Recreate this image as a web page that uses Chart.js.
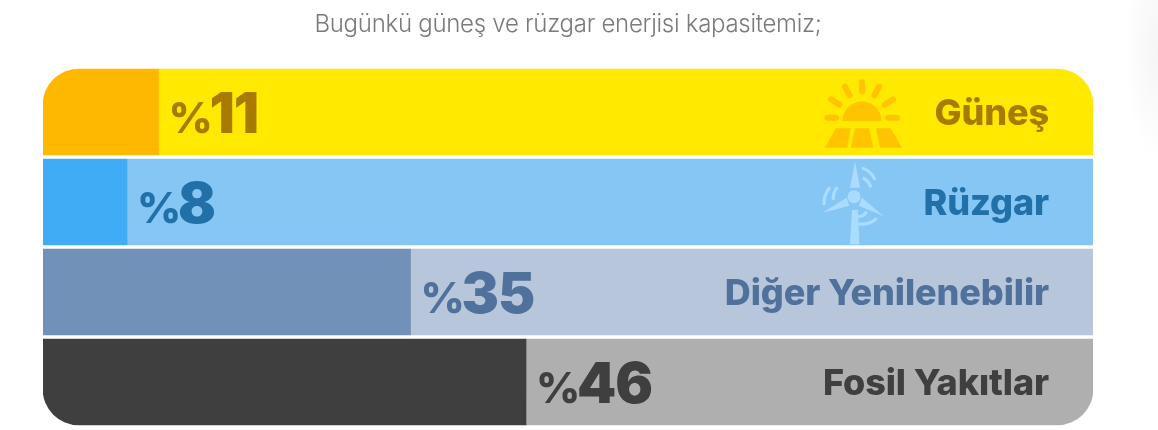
<!DOCTYPE html>
<html lang="tr">
<head>
    <meta charset="UTF-8">
    <title>Güneş ve rüzgar kapasitesi</title>
    <script src="https://cdn.jsdelivr.net/npm/chart.js"></script>
    <style>
        html, body { margin: 0; padding: 0; background: #fff; overflow: hidden; }
        #wrap { position: relative; width: 1158px; height: 430px; }
        #shade { position: absolute; right: 0; top: 0; width: 40px; height: 170px;
                 background: radial-gradient(ellipse 34px 110px at 100% 30%, #f5f5f5 0%, #ffffff 100%); }
        canvas { position: absolute; left: 0; top: 0; }
    </style>
</head>
<body>
<div id="wrap">
    <div id="shade"></div>
    <canvas id="capacityChart" width="1158" height="430"></canvas>
</div>

<script>
    const titleText = 'Bugünkü güneş ve rüzgar enerjisi kapasitemiz;';
    const categories = ['Güneş', 'Rüzgar', 'Diğer Yenilenebilir', 'Fosil Yakıtlar'];
    const shares = [11, 8, 35, 46];
    const rest = [89, 92, 65, 54];
    const shareColors = ['#FFB800', '#3FACF5', '#7191B8', '#3F3F3F'];
    const restColors = ['#FFE900', '#85C6F5', '#B7C6DA', '#AFAFAF'];
    const textColors = ['#A87A00', '#2270A8', '#50719B', '#3F3F3F'];

    const R = 36;
    const FONT = 'Inter, "Liberation Sans", Arial, sans-serif';

    // zoomed-crop coordinates -> page coordinates, makes the icons easier to trace
    const px = (x, ox) => ox + x / 3;

    function drawSun(ctx) {
        const X = x => px(x, 800), Y = y => px(y, 60);
        ctx.save();
        ctx.fillStyle = ctx.strokeStyle = '#FFC400';
        ctx.lineWidth = 6;
        ctx.lineCap = 'round';
        ctx.beginPath();
        ctx.arc(X(186), Y(183), 19.5, Math.PI, 0);
        ctx.closePath();
        ctx.fill();
        const rays = [[186, 67, 186, 94], [135, 80, 149, 106], [93, 118, 118, 134], [82, 173, 108, 173],
                      [237, 80, 223, 106], [279, 118, 254, 134], [291, 173, 265, 173]];
        rays.forEach(r => {
            ctx.beginPath();
            ctx.moveTo(X(r[0]), Y(r[1]));
            ctx.lineTo(X(r[2]), Y(r[3]));
            ctx.stroke();
        });
        const panels = [[[107, 205], [152, 205], [142, 263], [75, 263]],
                        [[165, 205], [207, 205], [220, 263], [152, 263]],
                        [[228, 205], [272, 205], [306, 263], [240, 263]]];
        panels.forEach(p => {
            ctx.beginPath();
            p.forEach((c, i) => i ? ctx.lineTo(X(c[0]), Y(c[1])) : ctx.moveTo(X(c[0]), Y(c[1])));
            ctx.closePath();
            ctx.fill();
        });
        ctx.restore();
    }

    function drawTurbine(ctx) {
        const X = x => px(x, 800), Y = y => px(y, 60);
        ctx.save();
        ctx.fillStyle = ctx.strokeStyle = '#ABDCFF';
        const shapes = [[[156, 450], [174, 450], [178, 553], [150, 553]],
                        [[165, 305], [180, 383], [150, 383]],
                        [[68, 458], [140, 413], [148, 437]],
                        [[250, 468], [186, 413], [176, 437]]];
        shapes.forEach(p => {
            ctx.beginPath();
            p.forEach((c, i) => i ? ctx.lineTo(X(c[0]), Y(c[1])) : ctx.moveTo(X(c[0]), Y(c[1])));
            ctx.closePath();
            ctx.fill();
        });
        ctx.beginPath();
        ctx.arc(X(162), Y(410), 6.5, 0, Math.PI * 2);
        ctx.fill();
        ctx.lineWidth = 3.2;
        const arcs = [[186, 324, 214, 332, 225, 360], [188, 353, 204, 360, 213, 382],
                      [72, 435, 70, 405, 90, 382], [100, 420, 98, 400, 112, 382],
                      [175, 470, 190, 470, 200, 455], [175, 492, 208, 496, 230, 475]];
        arcs.forEach(a => {
            ctx.beginPath();
            ctx.moveTo(X(a[0]), Y(a[1]));
            ctx.quadraticCurveTo(X(a[2]), Y(a[3]), X(a[4]), Y(a[5]));
            ctx.stroke();
        });
        ctx.restore();
    }

    const barTexts = {
        id: 'barTexts',
        afterDatasetsDraw(chart) {
            const ctx = chart.ctx;
            const bars = chart.getDatasetMeta(0).data;
            const rightEdge = chart.chartArea.right;
            drawSun(ctx);
            drawTurbine(ctx);
            ctx.save();
            ctx.textBaseline = 'alphabetic';

            ctx.fillStyle = '#7A7A7A';
            ctx.textAlign = 'center';
            ctx.font = '300 24px ' + FONT;
            ctx.letterSpacing = '-0.28px';
            ctx.fillText(titleText, 568, 32);

            bars.forEach((bar, i) => {
                ctx.fillStyle = textColors[i];
                ctx.textAlign = 'left';
                ctx.font = '800 43px ' + FONT;
                ctx.letterSpacing = '-1px';
                ctx.fillText('%', bar.x + 10, bar.y + 21);
                ctx.font = '900 56px ' + FONT;
                ctx.letterSpacing = '-1px';
                ctx.fillText(String(shares[i]), bar.x + 51, bar.y + 21);
                ctx.font = '800 36px ' + FONT;
                ctx.letterSpacing = '-0.1px';
                ctx.textAlign = 'right';
                ctx.fillText(categories[i], rightEdge - 44, bar.y + 13);
            });
            ctx.restore();
        }
    };

    new Chart(document.getElementById('capacityChart').getContext('2d'), {
        type: 'bar',
        data: {
            labels: categories,
            datasets: [
                {
                    data: shares,
                    backgroundColor: shareColors,
                    borderSkipped: false,
                    borderRadius: [
                        { topLeft: R, topRight: 0, bottomLeft: 0, bottomRight: 0 },
                        0,
                        0,
                        { topLeft: 0, topRight: 0, bottomLeft: R, bottomRight: 0 }
                    ]
                },
                {
                    data: rest,
                    backgroundColor: restColors,
                    borderSkipped: false,
                    borderRadius: [
                        { topLeft: 0, topRight: R, bottomLeft: 0, bottomRight: 0 },
                        0,
                        0,
                        { topLeft: 0, topRight: 0, bottomLeft: 0, bottomRight: R }
                    ]
                }
            ]
        },
        options: {
            indexAxis: 'y',
            responsive: false,
            animation: false,
            devicePixelRatio: 1,
            barThickness: 86,
            layout: { padding: { left: 43, right: 65, top: 67, bottom: 3 } },
            scales: {
                x: { stacked: true, min: 0, max: 100, display: false },
                y: { stacked: true, display: false }
            },
            plugins: {
                legend: { display: false },
                tooltip: { enabled: false },
                title: { display: false }
            }
        },
        plugins: [barTexts]
    });
</script>
</body>
</html>
